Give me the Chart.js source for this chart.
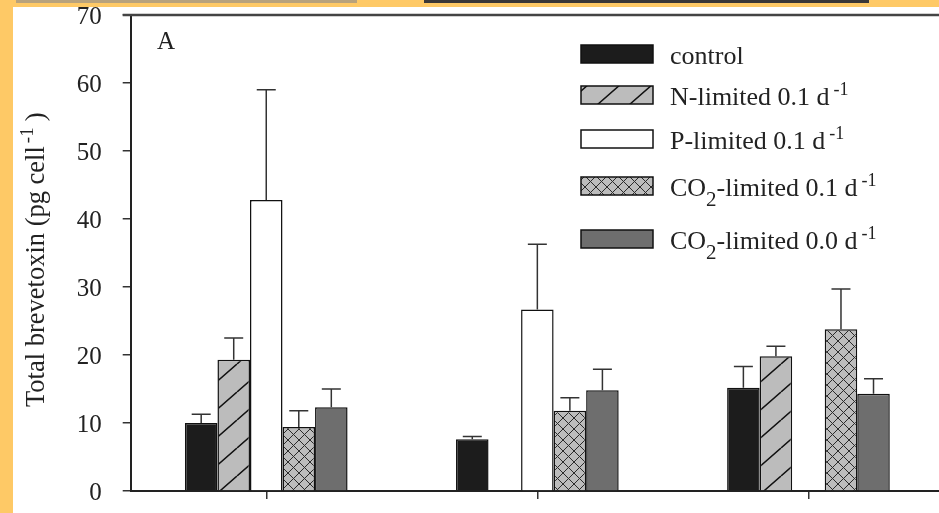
<!DOCTYPE html>
<html>
<head>
<meta charset="utf-8">
<script src="https://cdn.jsdelivr.net/npm/chart.js@4.4.1/dist/chart.umd.min.js"></script>
<style>
  html, body { margin: 0; padding: 0; width: 939px; height: 513px; overflow: hidden; background: #fec966; }
  #tan { position: absolute; left: 16px; top: 0; width: 341px; height: 3px; background: #b8a27c; }
  #dark { position: absolute; left: 424px; top: 0; width: 445px; height: 3px; background: #3a3838; }
  #paper { position: absolute; left: 13px; top: 7px; width: 931px; height: 506px; background: #fff; }
  #chart { position: absolute; left: 13px; top: 0; }
</style>
</head>
<body>
<div id="tan"></div>
<div id="dark"></div>
<div id="paper"></div>
<canvas id="chart" width="931" height="513"></canvas>
<script>
// three sampling groups, no labels in the figure
const categories = ["I", "II", "III"];

const control = [10.0, 7.6, 15.2];
const controlErr = [1.3, 0.4, 3.1];
const nLimited = [19.3, null, 19.8];
const nLimitedErr = [3.2, null, 1.5];
const pLimited = [42.8, 26.7, null];
const pLimitedErr = [16.2, 9.6, null];
const co2Limited01 = [9.4, 11.8, 23.8];
const co2Limited01Err = [2.4, 1.9, 5.9];
const co2Limited00 = [12.3, 14.8, 14.3];
const co2Limited00Err = [2.7, 3.1, 2.2];

const yTicks = [0, 10, 20, 30, 40, 50, 60, 70];

const seriesNames = ["control", "N-limited 0.1 d-1", "P-limited 0.1 d-1", "CO2-limited 0.1 d-1", "CO2-limited 0.0 d-1"];
// same names split for sub/superscript drawing
const legendParts = [
  [["control"]],
  [["N-limited 0.1 d"], ["-1", "sup"]],
  [["P-limited 0.1 d"], ["-1", "sup"]],
  [["CO"], ["2", "sub"], ["-limited 0.1 d"], ["-1", "sup"]],
  [["CO"], ["2", "sub"], ["-limited 0.0 d"], ["-1", "sup"]]
];

const serif = "'Liberation Serif', 'Times New Roman', serif";

function hatchPattern() {
  const c = document.createElement("canvas");
  c.width = 32; c.height = 28;
  const g = c.getContext("2d");
  g.fillStyle = "#bcbcbc";
  g.fillRect(0, 0, 32, 28);
  g.strokeStyle = "#111";
  g.lineWidth = 1.5;
  g.beginPath();
  for (let k = -1; k <= 1; k++) {
    g.moveTo(k * 32, 28);
    g.lineTo(k * 32 + 32, 0);
  }
  g.stroke();
  return g.createPattern(c, "repeat");
}

function crossPattern() {
  const c = document.createElement("canvas");
  c.width = 11; c.height = 11;
  const g = c.getContext("2d");
  g.fillStyle = "#bcbcbc";
  g.fillRect(0, 0, 11, 11);
  g.strokeStyle = "#2a2a2a";
  g.lineWidth = 1;
  g.beginPath();
  g.moveTo(0, 0); g.lineTo(11, 11);
  g.moveTo(11, 0); g.lineTo(0, 11);
  g.stroke();
  return g.createPattern(c, "repeat");
}

const fills = ["#1c1c1c", hatchPattern(), "#ffffff", crossPattern(), "#6e6e6e"];
const values = [control, nLimited, pLimited, co2Limited01, co2Limited00];
const errors = [controlErr, nLimitedErr, pLimitedErr, co2Limited01Err, co2Limited00Err];

const extras = {
  id: "extras",
  afterDatasetsDraw(chart) {
    const ctx = chart.ctx;
    const y = chart.scales.y;
    ctx.save();
    ctx.strokeStyle = "#333";
    ctx.lineWidth = 1.5;
    chart.data.datasets.forEach((ds, i) => {
      chart.getDatasetMeta(i).data.forEach((bar, j) => {
        const v = ds.data[j];
        if (v == null) return;
        const top = y.getPixelForValue(v + errors[i][j]);
        ctx.beginPath();
        ctx.moveTo(bar.x, bar.y);
        ctx.lineTo(bar.x, top);
        ctx.moveTo(bar.x - 9.5, top);
        ctx.lineTo(bar.x + 9.5, top);
        ctx.stroke();
      });
    });
    ctx.restore();
  },
  afterDraw(chart) {
    const ctx = chart.ctx;
    const area = chart.chartArea;
    const yScale = chart.scales.y;
    ctx.save();
    // top frame line
    ctx.strokeStyle = "#444";
    ctx.lineWidth = 2.5;
    ctx.beginPath();
    ctx.moveTo(area.left - 8, area.top);
    ctx.lineTo(area.right, area.top);
    ctx.stroke();

    // y tick labels, sitting a touch below their ticks like the original
    ctx.fillStyle = "#222";
    ctx.font = "25px " + serif;
    ctx.textAlign = "right";
    ctx.textBaseline = "middle";
    yScale.ticks.forEach(t => {
      ctx.fillText(String(t.value), area.left - 29, yScale.getPixelForValue(t.value) + 2.5);
    });

    ctx.textBaseline = "alphabetic";
    ctx.textAlign = "left";
    ctx.fillText("A", 144, 49);

    // y axis title with superscript
    ctx.save();
    ctx.translate(31, 407);
    ctx.rotate(-Math.PI / 2);
    ctx.font = "26.5px " + serif;
    const main = "Total brevetoxin (pg cell";
    ctx.fillText(main, 0, 0);
    let x = ctx.measureText(main).width + 3;
    ctx.font = "19px " + serif;
    ctx.fillText("-1", x, -11);
    x += ctx.measureText("-1").width + 6;
    ctx.font = "26.5px " + serif;
    ctx.fillText(")", x, 0);
    ctx.restore();

    // legend
    const rows = [54, 95, 139, 186, 239];
    legendParts.forEach((parts, i) => {
      const cy = rows[i];
      ctx.fillStyle = fills[i];
      ctx.fillRect(568, cy - 9, 72, 18);
      ctx.strokeStyle = "#111";
      ctx.lineWidth = 1.5;
      ctx.strokeRect(568, cy - 9, 72, 18);
      ctx.fillStyle = "#222";
      let tx = 657;
      const base = cy + 10;
      parts.forEach(([t, kind]) => {
        if (kind === "sup") {
          ctx.font = "18px " + serif;
          tx += 4;
          ctx.fillText(t, tx, base - 10);
        } else if (kind === "sub") {
          ctx.font = "21px " + serif;
          ctx.fillText(t, tx, base + 10);
        } else {
          ctx.font = "26px " + serif;
          ctx.fillText(t, tx, base);
        }
        tx += ctx.measureText(t).width;
      });
    });
    ctx.restore();
  }
};

new Chart(document.getElementById("chart"), {
  type: "bar",
  data: {
    labels: categories,
    datasets: seriesNames.map((name, i) => ({
      label: name,
      data: values[i],
      backgroundColor: fills[i],
      borderColor: "#111",
      borderWidth: 1.5,
      categoryPercentage: 0.6,
      barPercentage: 1.0
    }))
  },
  options: {
    responsive: false,
    animation: false,
    layout: { autoPadding: false, padding: { top: 15, left: 0, right: 0, bottom: 0 } },
    plugins: { legend: { display: false }, tooltip: { enabled: false } },
    scales: {
      x: {
        grid: { offset: false, drawOnChartArea: false, drawTicks: true, tickLength: 8, color: "#333", lineWidth: 1.5 },
        border: { color: "#222", width: 2 },
        ticks: { display: false },
        afterFit: scale => {
          scale.height = 22;
          scale.paddingLeft = 0;
          scale.paddingRight = 0;
        }
      },
      y: {
        min: 0,
        max: 70,
        afterBuildTicks: scale => { scale.ticks = yTicks.map(v => ({ value: v })); },
        grid: { drawOnChartArea: false, drawTicks: true, tickLength: 8, color: "#333", lineWidth: 1.5 },
        border: { color: "#222", width: 2 },
        ticks: { display: false },
        afterFit: scale => {
          scale.width = 117.7;
          scale.paddingTop = 0;
          scale.paddingBottom = 0;
        }
      }
    }
  },
  plugins: [extras]
});
</script>
</body>
</html>
